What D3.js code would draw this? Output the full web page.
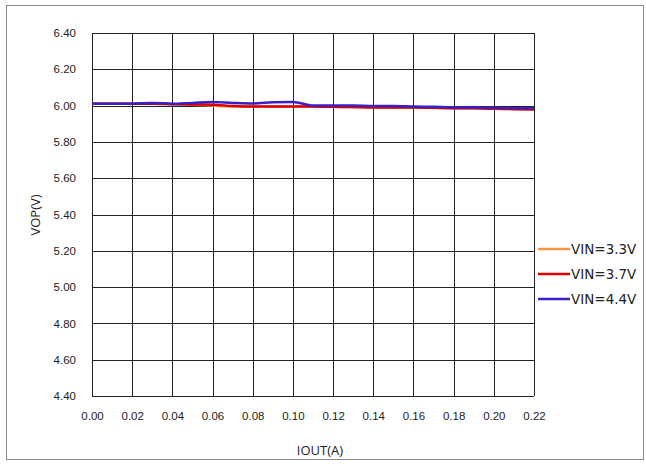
<!DOCTYPE html>
<html>
<head>
<meta charset="utf-8">
<script src="https://cdn.jsdelivr.net/npm/d3@7"></script>
<style>
  html, body { margin: 0; padding: 0; background: #fff; }
  svg { display: block; }
</style>
</head>
<body>
<svg id="chart" width="646" height="464"></svg>
<script>
// Output current (A) at each measurement point
const iout = [0.00, 0.01, 0.02, 0.03, 0.04, 0.05, 0.06, 0.07, 0.08, 0.09, 0.10, 0.11,
              0.12, 0.13, 0.14, 0.15, 0.16, 0.17, 0.18, 0.19, 0.20, 0.21, 0.22];

// Output voltage VOP (V) for each input voltage
const vin33 = [6.010, 6.010, 6.010, 6.010, 6.008, 6.005, 6.000, 5.995, 5.995, 5.995, 5.995, 5.995,
               5.993, 5.992, 5.990, 5.990, 5.990, 5.988, 5.986, 5.985, 5.983, 5.982, 5.980];
const vin37 = [6.010, 6.010, 6.010, 6.010, 6.008, 6.006, 6.005, 5.998, 5.995, 5.995, 5.995, 5.995,
               5.993, 5.992, 5.990, 5.990, 5.990, 5.988, 5.986, 5.985, 5.983, 5.980, 5.978];
const vin44 = [6.010, 6.010, 6.010, 6.015, 6.010, 6.015, 6.020, 6.015, 6.012, 6.018, 6.020, 6.000,
               6.000, 6.000, 5.998, 5.998, 5.995, 5.993, 5.990, 5.990, 5.988, 5.986, 5.985];

const seriesNames = ["VIN=3.3V", "VIN=3.7V", "VIN=4.4V"];
const seriesColors = ["#F79646", "#D90000", "#3A1EC8"];

const xTicks = [0.00, 0.02, 0.04, 0.06, 0.08, 0.10, 0.12, 0.14, 0.16, 0.18, 0.20, 0.22];
const yTicks = [4.40, 4.60, 4.80, 5.00, 5.20, 5.40, 5.60, 5.80, 6.00, 6.20, 6.40];

const svg = d3.select("#chart");
const W = 646, H = 464;
const plot = { left: 92, right: 534, top: 33, bottom: 396 };

// Outer frame
svg.append("rect")
  .attr("x", 6.5).attr("y", 5.5)
  .attr("width", 637).attr("height", 454)
  .attr("fill", "#fff").attr("stroke", "#8a8a8a").attr("stroke-width", 1);

const x = d3.scaleLinear().domain([0, 0.22]).range([plot.left, plot.right]);
const y = d3.scaleLinear().domain([4.4, 6.4]).range([plot.bottom, plot.top]);

// Grid
const grid = svg.append("g").attr("stroke", "#222").attr("stroke-width", 1).attr("shape-rendering", "crispEdges");
grid.selectAll("line.v").data(xTicks).join("line")
  .attr("x1", d => Math.round(x(d)) + 0.5).attr("x2", d => Math.round(x(d)) + 0.5)
  .attr("y1", plot.top).attr("y2", plot.bottom);
grid.selectAll("line.h").data(yTicks).join("line")
  .attr("x1", plot.left).attr("x2", plot.right)
  .attr("y1", d => Math.round(y(d)) + 0.5).attr("y2", d => Math.round(y(d)) + 0.5);

// Axes (labels only; lines drawn by the grid)
const fontTicks = "'Liberation Sans', Arial, sans-serif";
const xAxis = d3.axisBottom(x).tickValues(xTicks).tickFormat(d3.format(".2f")).tickSize(0).tickPadding(16);
const gx = svg.append("g").attr("transform", `translate(0,${plot.bottom})`).call(xAxis);
gx.select(".domain").remove();
gx.selectAll("text").attr("font-family", fontTicks).attr("font-size", 11.5).attr("fill", "#222");

const yAxis = d3.axisLeft(y).tickValues(yTicks).tickFormat(d3.format(".2f")).tickSize(0).tickPadding(16);
const gy = svg.append("g").attr("transform", `translate(${plot.left},0)`).call(yAxis);
gy.select(".domain").remove();
gy.selectAll("text").attr("font-family", fontTicks).attr("font-size", 11.5).attr("fill", "#222");

// Series lines
const allSeries = [vin33, vin37, vin44];
const line = d3.line().x((d, i) => x(iout[i])).y(d => y(d)).curve(d3.curveMonotoneX);
svg.append("g").selectAll("path").data(allSeries).join("path")
  .attr("d", d => line(d))
  .attr("fill", "none")
  .attr("stroke", (d, i) => seriesColors[i])
  .attr("stroke-width", 2.5)
  .attr("stroke-linejoin", "round");

// Axis titles
const fontTitle = "'Open Sans', 'Noto Sans', sans-serif";
svg.append("text")
  .attr("x", 320).attr("y", 455)
  .attr("text-anchor", "middle")
  .attr("font-family", fontTitle).attr("font-size", 13).attr("fill", "#222")
  .text("IOUT(A)");
svg.append("text")
  .attr("transform", "translate(40,215) rotate(-90)")
  .attr("text-anchor", "middle")
  .attr("font-family", fontTitle).attr("font-size", 13).attr("fill", "#222")
  .text("VOP(V)");

// Legend
const legend = svg.append("g");
const legY = [249, 274, 299];
seriesNames.forEach((name, i) => {
  legend.append("line")
    .attr("x1", 538).attr("x2", 570)
    .attr("y1", legY[i]).attr("y2", legY[i])
    .attr("stroke", seriesColors[i]).attr("stroke-width", 2.5);
  legend.append("text")
    .attr("x", 571).attr("y", legY[i])
    .attr("dy", "0.36em")
    .attr("font-family", "'DejaVu Sans', Verdana, sans-serif")
    .attr("font-size", 13.5).attr("fill", "#222")
    .text(name);
});
</script>
</body>
</html>
